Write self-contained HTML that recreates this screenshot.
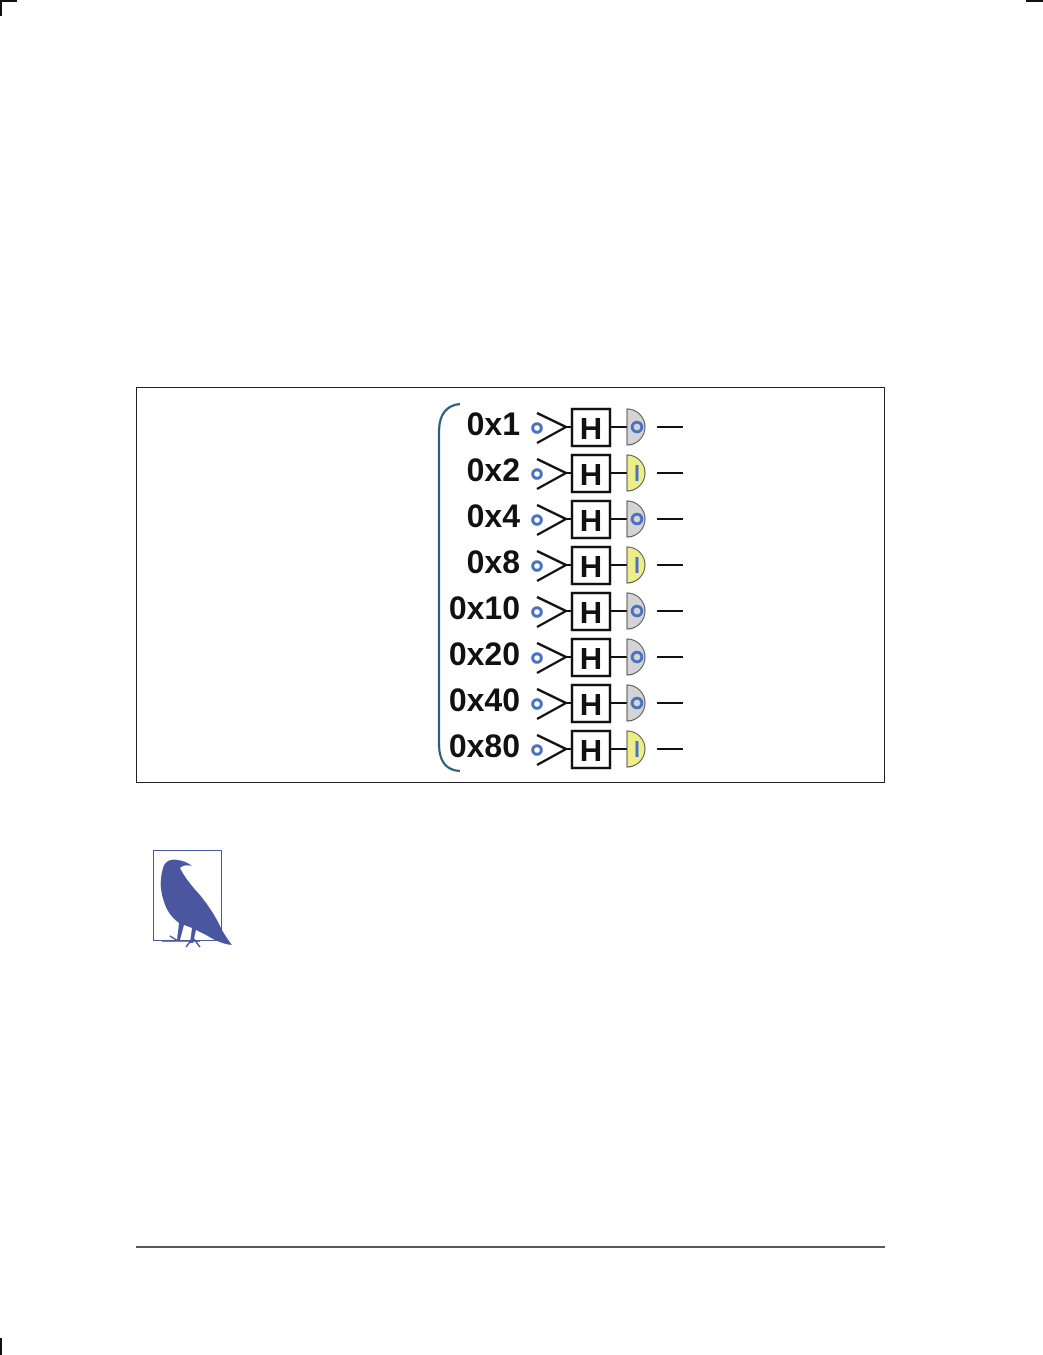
<!DOCTYPE html>
<html><head><meta charset="utf-8"><style>
html,body{margin:0;padding:0;background:#fff;}
svg{display:block;}
text{font-family:"Liberation Sans",sans-serif;font-weight:bold;fill:#111;}
</style></head><body>
<svg width="1043" height="1355" viewBox="0 0 1043 1355" xmlns="http://www.w3.org/2000/svg">
<defs>
<g id="base">
  <circle cx="537" cy="1" r="4.3" fill="#fff" stroke="#4a72c4" stroke-width="3"/>
  <polyline points="537,-14 566,0 537,16" fill="none" stroke="#111" stroke-width="2.4"/>
  <line x1="566" y1="0" x2="572" y2="0" stroke="#111" stroke-width="2"/>
  <rect x="572" y="-18" width="38" height="37" fill="#fff" stroke="#111" stroke-width="2.4"/>
  <text x="591" y="12" font-size="31" text-anchor="middle">H</text>
  <line x1="610" y1="0" x2="627" y2="0" stroke="#111" stroke-width="2"/>
  <line x1="657" y1="0" x2="683" y2="0" stroke="#111" stroke-width="2"/>
</g>
<g id="zero">
  <use href="#base"/>
  <path d="M627,-18 A18,18 0 0 1 627,18 Z" fill="#d4d4d6" stroke="#555" stroke-width="1"/>
  <circle cx="637" cy="0" r="4.8" fill="none" stroke="#4a72c4" stroke-width="3"/>
</g>
<g id="one">
  <use href="#base"/>
  <path d="M627,-18 A18,18 0 0 1 627,18 Z" fill="#eeee88" stroke="#555" stroke-width="1"/>
  <line x1="637" y1="-8" x2="637" y2="8" stroke="#4a72c4" stroke-width="3"/>
</g>
</defs>

<line x1="0" y1="1" x2="17" y2="1" stroke="#111" stroke-width="2"/>
<line x1="1" y1="0" x2="1" y2="16" stroke="#111" stroke-width="2"/>
<line x1="1026" y1="1" x2="1043" y2="1" stroke="#111" stroke-width="2"/>
<line x1="1" y1="1338" x2="1" y2="1355" stroke="#111" stroke-width="2"/>

<rect x="136.5" y="387.5" width="748" height="395" fill="none" stroke="#222" stroke-width="1"/>

<path d="M460,404 Q440,406 439,430 L439,746 Q440,770 460,771" fill="none" stroke="#2e5f7e" stroke-width="2.2"/>

<g transform="translate(0,427)"><text x="520" y="8" font-size="32" text-anchor="end">0x1</text><use href="#zero"/></g>
<g transform="translate(0,473)"><text x="520" y="8" font-size="32" text-anchor="end">0x2</text><use href="#one"/></g>
<g transform="translate(0,519)"><text x="520" y="8" font-size="32" text-anchor="end">0x4</text><use href="#zero"/></g>
<g transform="translate(0,565)"><text x="520" y="8" font-size="32" text-anchor="end">0x8</text><use href="#one"/></g>
<g transform="translate(0,611)"><text x="520" y="8" font-size="32" text-anchor="end">0x10</text><use href="#zero"/></g>
<g transform="translate(0,657)"><text x="520" y="8" font-size="32" text-anchor="end">0x20</text><use href="#zero"/></g>
<g transform="translate(0,703)"><text x="520" y="8" font-size="32" text-anchor="end">0x40</text><use href="#zero"/></g>
<g transform="translate(0,749)"><text x="520" y="8" font-size="32" text-anchor="end">0x80</text><use href="#one"/></g>

<rect x="153.5" y="850.5" width="68" height="90" fill="#fff" stroke="#4a56a0" stroke-width="1"/>
<path d="M163,868 Q166,858 178,860 Q186,861 192,866 Q184,864 180,868 Q186,880 200,895 Q214,912 222,930 Q228,940 232,945 Q220,944 206,935 L196,930 L193,943 L190,943 L192,928 L184,925 L180,940 L177,940 L179,923 Q168,915 164,902 Q158,885 163,868 Z" fill="#4a56a0"/>
<path d="M162,941 L200,941 M186,947 L193,938 L200,947 M170,936 L178,941" stroke="#4a56a0" stroke-width="1.5" fill="none"/>

<line x1="136" y1="1247" x2="885" y2="1247" stroke="#222" stroke-width="1.5"/>
</svg>
</body></html>
